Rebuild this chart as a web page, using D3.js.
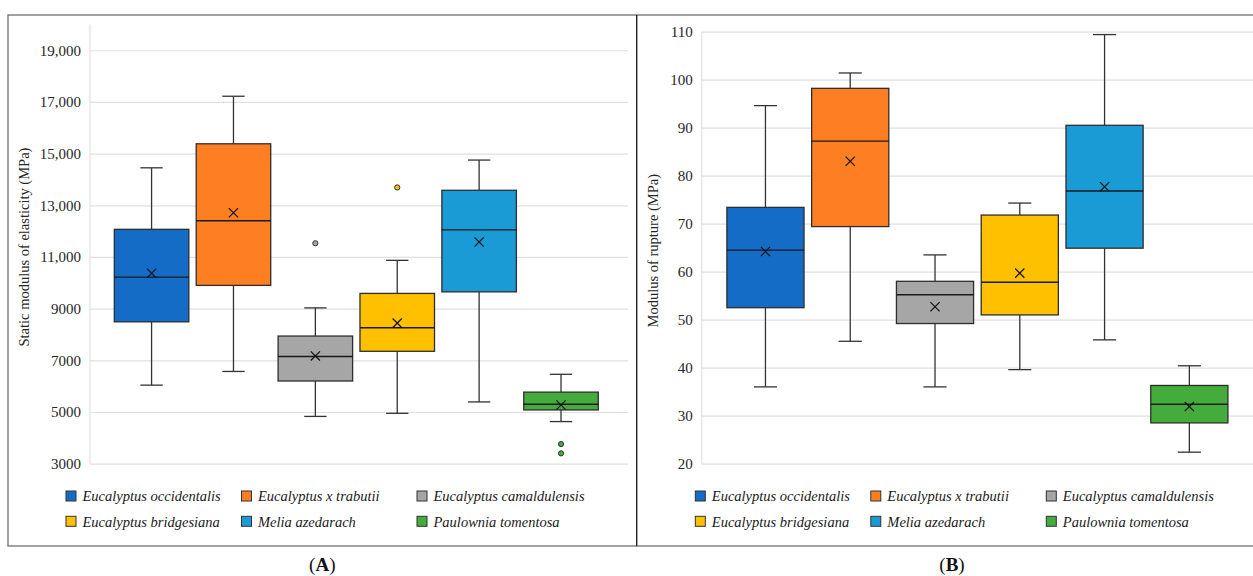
<!DOCTYPE html>
<html>
<head>
<meta charset="utf-8">
<script src="https://cdn.jsdelivr.net/npm/d3@7"></script>
<style>
  html, body { margin: 0; padding: 0; background: #fff; }
  svg { display: block; }
  svg text { font-family: "Liberation Serif", "Times New Roman", serif; }
</style>
</head>
<body>
<svg id="chart" width="1253" height="576"></svg>
<script>
// Species and their box fill colours
const species = [
  "Eucalyptus occidentalis", "Eucalyptus x trabutii", "Eucalyptus camaldulensis",
  "Eucalyptus bridgesiana", "Melia azedarach", "Paulownia tomentosa"
];
const colors = ["#156cc6", "#fd7f22", "#a6a6a6", "#ffc000", "#1a9bd6", "#43ac3b"];

// (A) Static modulus of elasticity, MPa
const moeMin    = [6040, 6570, 4830, 4950, 5390, 4630];
const moeQ1     = [8490, 9900, 6200, 7350, 9650, 5080];
const moeMedian = [10220, 12400, 7150, 8260, 12050, 5300];
const moeQ3     = [12070, 15380, 7940, 9590, 13580, 5770];
const moeMax    = [14450, 17220, 9030, 10870, 14750, 6460];
const moeMean   = [10370, 12710, 7170, 8440, 11580, 5270];
const moeOutliers = [[], [], [11530], [13690], [], [3760, 3400]];
const moeTicks  = [3000, 5000, 7000, 9000, 11000, 13000, 15000, 17000, 19000];

// (B) Modulus of rupture, MPa
const morMin    = [36.0, 45.5, 36.0, 39.6, 45.8, 22.4];
const morQ1     = [52.5, 69.4, 49.2, 51.0, 64.9, 28.5];
const morMedian = [64.5, 87.2, 55.2, 57.8, 76.8, 32.4];
const morQ3     = [73.4, 98.2, 58.0, 71.8, 90.5, 36.3];
const morMax    = [94.6, 101.4, 63.5, 74.3, 109.4, 40.4];
const morMean   = [64.2, 83.0, 52.7, 59.7, 77.7, 31.9];
const morOutliers = [[], [], [], [], [], []];
const morTicks  = [20, 30, 40, 50, 60, 70, 80, 90, 100, 110];

const SERIF = "'Liberation Serif', 'Times New Roman', serif";
const svg = d3.select("#chart");

function buildRows(min, q1, med, q3, max, mean, outl) {
  return species.map((s, i) => ({
    name: s, color: colors[i],
    min: min[i], q1: q1[i], median: med[i], q3: q3[i], max: max[i], mean: mean[i],
    outliers: outl[i]
  }));
}

const panels = [
  {
    rows: buildRows(moeMin, moeQ1, moeMedian, moeQ3, moeMax, moeMean, moeOutliers),
    domain: [3000, 20000], ticks: moeTicks,
    fmt: d => d >= 10000 ? d3.format(",")(d) : String(d),
    title: "Static modulus of elasticity (MPa)", label: "A",
    left: 90, right: 628, top: 24.4, bottom: 463.7, titleX: 24,
    legendX: 66, center: 322.3
  },
  {
    rows: buildRows(morMin, morQ1, morMedian, morQ3, morMax, morMean, morOutliers),
    domain: [20, 110], ticks: morTicks,
    fmt: d => String(d),
    title: "Modulus of rupture (MPa)", label: "B",
    left: 701.7, right: 1258.7, top: 31.7, bottom: 463.7, titleX: 653,
    legendX: 695.3, center: 952
  }
];

// Outer frame and the divider between the two panels
svg.append("rect")
  .attr("x", 8).attr("y", 15).attr("width", 1259).attr("height", 531)
  .attr("fill", "none").attr("stroke", "#7a7a7a").attr("stroke-width", 1.4);
svg.append("line")
  .attr("x1", 636.7).attr("x2", 636.7).attr("y1", 15).attr("y2", 546)
  .attr("stroke", "#222").attr("stroke-width", 1.4);

panels.forEach(p => {
  const y = d3.scaleLinear().domain(p.domain).range([p.bottom, p.top]);
  const x = d3.scaleBand()
    .domain(p.rows.map(r => r.name))
    .range([p.left, p.right])
    .paddingInner(0.09).paddingOuter(0.33).align(0.45);

  const g = svg.append("g");

  // Gridlines with tick labels
  const axis = d3.axisLeft(y).tickValues(p.ticks).tickFormat(p.fmt)
    .tickSizeInner(-(p.right - p.left)).tickSizeOuter(0).tickPadding(9);
  const ax = g.append("g").attr("transform", `translate(${p.left},0)`).call(axis)
    .attr("font-family", SERIF);
  ax.select(".domain").remove();
  ax.selectAll(".tick line").attr("stroke", "#e0e0e0").attr("stroke-width", 1.2);
  ax.selectAll(".tick text")
    .attr("fill", "#262626").attr("font-size", 15)
    .attr("font-family", SERIF);

  // Vertical axis line
  g.append("line")
    .attr("x1", p.left).attr("x2", p.left)
    .attr("y1", y(p.domain[1])).attr("y2", y(p.domain[0]))
    .attr("stroke", "#e0e0e0").attr("stroke-width", 1.2);

  // Axis title
  g.append("text")
    .attr("transform", `translate(${p.titleX},${(p.top + p.bottom) / 2 + 3}) rotate(-90)`)
    .attr("text-anchor", "middle").attr("dominant-baseline", "central")
    .attr("font-family", SERIF).attr("font-size", 14.5).attr("fill", "#262626")
    .text(p.title);

  const bw = x.bandwidth();
  const capW = bw * 0.3;
  const boxes = g.selectAll("g.box").data(p.rows).join("g").attr("class", "box");
  const cx = d => x(d.name) + bw / 2;

  // Whiskers
  boxes.append("line")
    .attr("x1", cx).attr("x2", cx)
    .attr("y1", d => y(d.max)).attr("y2", d => y(d.q3))
    .attr("stroke", "#333").attr("stroke-width", 1.3);
  boxes.append("line")
    .attr("x1", cx).attr("x2", cx)
    .attr("y1", d => y(d.q1)).attr("y2", d => y(d.min))
    .attr("stroke", "#333").attr("stroke-width", 1.3);
  ["max", "min"].forEach(k => {
    boxes.append("line")
      .attr("x1", d => cx(d) - capW / 2).attr("x2", d => cx(d) + capW / 2)
      .attr("y1", d => y(d[k])).attr("y2", d => y(d[k]))
      .attr("stroke", "#333").attr("stroke-width", 1.3);
  });

  // Interquartile box
  boxes.append("rect")
    .attr("x", d => x(d.name)).attr("width", bw)
    .attr("y", d => y(d.q3)).attr("height", d => y(d.q1) - y(d.q3))
    .attr("fill", d => d.color).attr("stroke", "#2e2e2e").attr("stroke-width", 1.3);

  // Median
  boxes.append("line")
    .attr("x1", d => x(d.name)).attr("x2", d => x(d.name) + bw)
    .attr("y1", d => y(d.median)).attr("y2", d => y(d.median))
    .attr("stroke", "#1a1a1a").attr("stroke-width", 1.4);

  // Mean marker (x)
  const m = 4.6;
  boxes.append("path")
    .attr("d", d => {
      const X = cx(d), Y = y(d.mean);
      return `M${X - m},${Y - m}L${X + m},${Y + m}M${X - m},${Y + m}L${X + m},${Y - m}`;
    })
    .attr("stroke", "#111").attr("stroke-width", 1.2).attr("fill", "none");

  // Outliers
  boxes.selectAll("circle")
    .data(d => d.outliers.map(v => ({ v, d })))
    .join("circle")
    .attr("cx", o => cx(o.d)).attr("cy", o => y(o.v)).attr("r", 2.6)
    .attr("fill", o => o.d.color).attr("stroke", "#333").attr("stroke-width", 1);

  // Legend: three columns, two rows
  const leg = g.append("g");
  p.rows.forEach((r, i) => {
    const col = i % 3, row = Math.floor(i / 3);
    const lx = p.legendX + col * 175.5;
    const ly = 496 + row * 25.3;
    leg.append("rect")
      .attr("x", lx).attr("y", ly - 5).attr("width", 10).attr("height", 10)
      .attr("fill", r.color).attr("stroke", "#333").attr("stroke-width", 1);
    leg.append("text")
      .attr("x", lx + 16.5).attr("y", ly).attr("dy", "0.36em")
      .attr("font-family", SERIF)
      .attr("font-size", 14.5).attr("font-style", "italic").attr("fill", "#1a1a1a")
      .text(r.name);
  });

  // Panel label
  const lab = svg.append("text")
    .attr("x", p.center).attr("y", 571).attr("text-anchor", "middle")
    .attr("font-family", SERIF)
    .attr("font-size", 19).attr("fill", "#111");
  lab.append("tspan").text("(");
  lab.append("tspan").attr("font-weight", "bold").text(p.label);
  lab.append("tspan").text(")");
});
</script>
</body>
</html>
